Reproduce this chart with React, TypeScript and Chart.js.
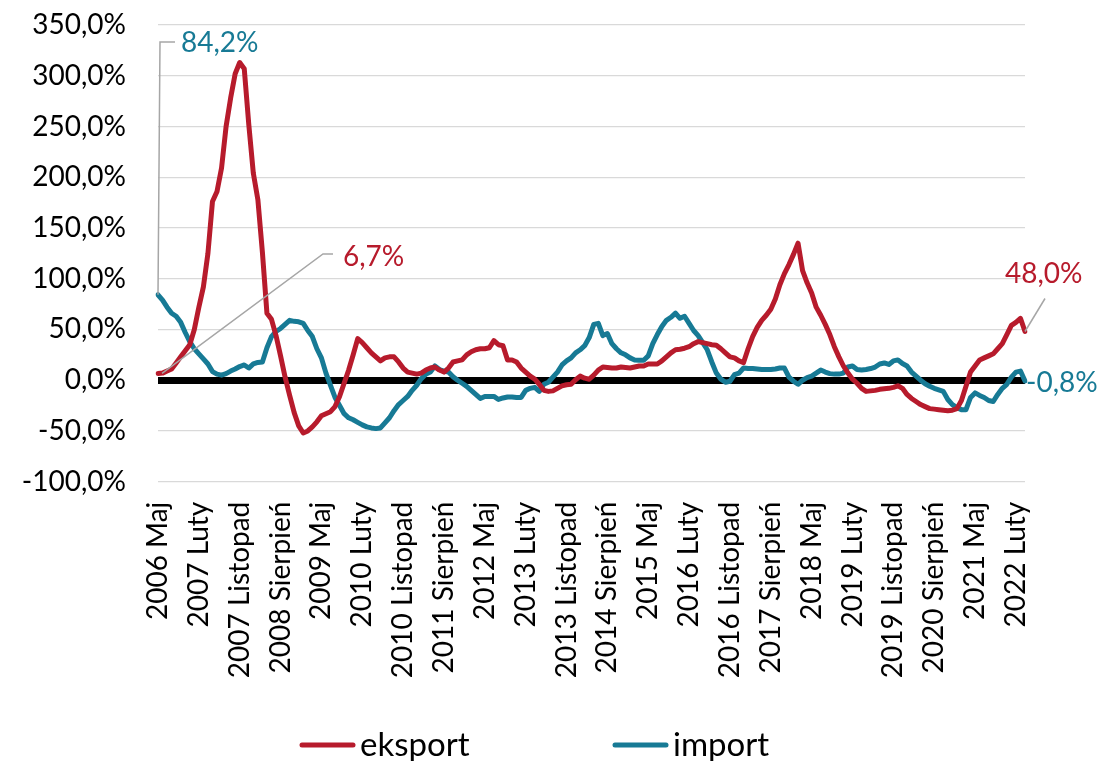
import React, { useEffect, useRef } from "react";
import { Chart, registerables } from "chart.js";

Chart.register(...registerables);

// ---- data ----
const MONTH_NAMES = [
  "Styczeń", "Luty", "Marzec", "Kwiecień", "Maj", "Czerwiec",
  "Lipiec", "Sierpień", "Wrzesień", "Październik", "Listopad", "Grudzień",
];
const START_YEAR = 2006;
const START_MONTH = 4; // Maj

const EKSPORT = [
  6.7, 7, 9, 11, 17, 23, 29, 35, 50, 72,
  92, 125, 176, 186, 209, 250, 278, 302, 313, 307,
  252, 204, 178, 126, 66, 60, 44, 24, 3, -15,
  -32, -45, -52, -50, -46, -41, -35, -33, -31, -26,
  -16, -3, 10, 25, 41, 37, 32, 27, 23, 19,
  22, 23, 23, 18, 12, 8, 7, 6, 7, 10,
  12, 13, 10, 8, 12, 18, 19, 20, 25, 28,
  30, 31, 31, 32, 39, 35, 34, 20, 20, 18,
  12, 8, 4, 1, -4, -10, -11, -10.5, -8, -5.6,
  -4.5, -4, 0.5, 4, 2, 1, 5, 10, 13, 12.5,
  12, 12, 13, 12.5, 12, 13, 14, 14, 16, 16,
  16, 19, 23, 27, 30, 30.5, 31.5, 33, 36, 38,
  37, 36, 35, 34.5, 31, 27, 23, 22, 19, 17.4,
  31, 43, 52, 59, 64, 70, 80, 94, 105, 114,
  124, 135, 108, 96, 86, 72, 64, 55, 45, 33,
  23, 14, 7, 1, -3, -8, -11, -10.5, -10, -9,
  -8.5, -8, -7, -5.5, -8, -14, -18, -21, -24, -26,
  -28, -28.5, -29, -29.5, -30, -29.5, -28, -20, -6, 8,
  14, 20, 22, 24, 26, 31, 36, 45, 54, 57,
  61, 48.0,
];

const IMPORT = [
  84.2, 79, 72, 66, 63, 57, 47, 38, 31, 26,
  21, 16, 8.5, 6, 5, 6.5, 9, 11, 13.5, 15,
  12, 16, 17.5, 18, 32, 43, 48, 51, 55, 59,
  58, 57.5, 56, 49, 43, 31, 22, 7, -5, -17,
  -25, -33, -37, -39, -41.5, -44, -46, -47, -47.7, -47,
  -42, -37, -30, -24, -20, -16, -10, -5, 1.5, 6,
  8, 14, 10.5, 9, 8, 3.5, 0, -3, -6, -10,
  -14, -18, -16, -16, -16, -19, -17.5, -16.5, -16.5, -17,
  -17, -10, -8, -7, -11, -4, -2, 3, 8, 15,
  19, 22, 27, 30, 34, 42, 55, 56, 44, 46,
  36, 31, 27, 25, 22, 20, 19.7, 19.7, 24, 36,
  45, 53, 59, 62, 66, 61, 63, 56, 49, 44,
  37, 30, 18, 7, 1, -2, -1, 5.5, 7, 12,
  11.5, 11.5, 11, 10.5, 10.5, 10.5, 11, 12, 12, 3,
  -1, -4, 0, 2.5, 4, 7, 10, 8, 6.5, 6,
  6, 7, 13, 14, 10.5, 10, 10.5, 11.5, 13, 16,
  17, 15.5, 19, 20, 16.4, 14, 8, 4, 0, -3.5,
  -6, -8, -9.5, -11, -19, -24, -27, -29, -29, -17,
  -12.5, -15, -17, -20, -21, -14, -8, -4, 3, 8,
  9, -0.8,
];

const LABELS: string[] = EKSPORT.map((_, i) => {
  const m = START_MONTH + i;
  return `${START_YEAR + Math.floor(m / 12)} ${MONTH_NAMES[m % 12]}`;
});

const LABEL_EVERY = 9;
const Y_MIN = -100;
const Y_MAX = 350;
const Y_STEP = 50;

const SERIES_NAMES = ["eksport", "import"];

// ---- style ----
const RED = "#B71B2C";
const TEAL = "#177A95";
const FONT = "Lato";
const TICK_SIZE = 28;
const LEGEND_SIZE = 33;

const fmt = (v: number) => v.toFixed(1).replace(".", ",") + "%";

const annotationsPlugin = {
  id: "endLabels",
  afterDatasetsDraw(chart: any) {
    const { ctx, scales } = chart;
    const x = scales.x;
    const y = scales.y;
    const n = EKSPORT.length - 1;
    const x0 = x.getPixelForValue(0);
    const xn = x.getPixelForValue(n);
    ctx.save();
    ctx.font = `${TICK_SIZE}px ${FONT}`;
    ctx.textBaseline = "middle";
    ctx.textAlign = "left";
    ctx.strokeStyle = "#A6A6A6";
    ctx.lineWidth = 1.5;
    const poly = (pts: number[][]) => {
      ctx.beginPath();
      ctx.moveTo(pts[0][0], pts[0][1]);
      for (let k = 1; k < pts.length; k++) ctx.lineTo(pts[k][0], pts[k][1]);
      ctx.stroke();
    };
    // import first value
    const yi0 = y.getPixelForValue(IMPORT[0]);
    poly([[x0, yi0], [x0 + 2, 42], [x0 + 17, 42]]);
    ctx.fillStyle = TEAL;
    ctx.fillText(fmt(IMPORT[0]), x0 + 23, 43);
    // eksport first value
    const ye0 = y.getPixelForValue(EKSPORT[0]);
    poly([[x0 + 4, ye0], [323, 254], [333, 254]]);
    ctx.fillStyle = RED;
    ctx.fillText(fmt(EKSPORT[0]), 343, 257);
    // eksport last value
    const yen = y.getPixelForValue(EKSPORT[n]);
    poly([[xn, yen], [xn + 20, yen - 33]]);
    ctx.fillStyle = RED;
    ctx.fillText(fmt(EKSPORT[n]), 1005, 274);
    // import last value
    ctx.fillStyle = TEAL;
    ctx.fillText(fmt(IMPORT[n]), xn + 1, 383);
    ctx.restore();
  },
};

const legendPlugin = {
  id: "customLegend",
  afterDraw(chart: any) {
    const ctx = chart.ctx;
    const xs = [300, 613];
    ctx.save();
    ctx.lineCap = "round";
    ctx.lineWidth = 5;
    ctx.font = `${LEGEND_SIZE}px ${FONT}`;
    ctx.textBaseline = "alphabetic";
    ctx.textAlign = "left";
    chart.data.datasets.forEach((ds: any, i: number) => {
      const lx = xs[i];
      ctx.strokeStyle = ds.borderColor;
      ctx.beginPath();
      ctx.moveTo(lx + 2, 745);
      ctx.lineTo(lx + 53, 745);
      ctx.stroke();
      ctx.fillStyle = "#000";
      ctx.fillText(ds.label, lx + 60, 756);
    });
    ctx.restore();
  },
};

export default function App() {
  const ref = useRef<HTMLCanvasElement | null>(null);

  useEffect(() => {
    if (!ref.current) return;
    const chart = new Chart(ref.current, {
      type: "line",
      data: {
        labels: LABELS,
        datasets: [
          {
            label: SERIES_NAMES[0],
            data: EKSPORT,
            borderColor: RED,
            backgroundColor: RED,
            borderWidth: 5,
            pointRadius: 0,
            tension: 0,
            borderCapStyle: "round",
            borderJoinStyle: "round",
          },
          {
            label: SERIES_NAMES[1],
            data: IMPORT,
            borderColor: TEAL,
            backgroundColor: TEAL,
            borderWidth: 5,
            pointRadius: 0,
            tension: 0,
            borderCapStyle: "round",
            borderJoinStyle: "round",
          },
        ],
      },
      options: {
        responsive: false,
        animation: false,
        layout: { padding: { left: 0, right: 74, top: 25, bottom: 0 } },
        plugins: {
          legend: { display: false },
          tooltip: { enabled: false },
        },
        scales: {
          x: {
            grid: { display: false, drawTicks: false },
            border: { display: false },
            ticks: {
              autoSkip: false,
              minRotation: 90,
              maxRotation: 90,
              padding: 20,
              color: "#000",
              font: { family: FONT, size: TICK_SIZE },
              callback: (_v: any, i: number) => (i % LABEL_EVERY === 0 ? LABELS[i] : ""),
            },
            afterFit: (s: any) => {
              s.height = 761 - 481.7;
            },
          },
          y: {
            min: Y_MIN,
            max: Y_MAX,
            border: { display: false },
            grid: {
              drawTicks: true,
              tickLength: 32,
              tickColor: "rgba(0,0,0,0)",
              color: (c: any) => (c.tick && c.tick.value === 0 ? "#000" : "#D9D9D9"),
              lineWidth: (c: any) => (c.tick && c.tick.value === 0 ? 7 : 1.3),
            },
            ticks: {
              stepSize: Y_STEP,
              padding: 0,
              color: "#000",
              font: { family: FONT, size: TICK_SIZE },
              callback: (v: any) => fmt(Number(v)),
            },
            afterFit: (s: any) => {
              s.width = 158;
            },
          },
        },
      },
      plugins: [annotationsPlugin, legendPlugin],
    });
    return () => chart.destroy();
  }, []);

  return (
    <div style={{ position: "absolute", left: 0, top: 0, width: 1099, height: 761, background: "#fff" }}>
      <canvas ref={ref} width={1099} height={761} style={{ display: "block", width: 1099, height: 761 }} />
    </div>
  );
}
